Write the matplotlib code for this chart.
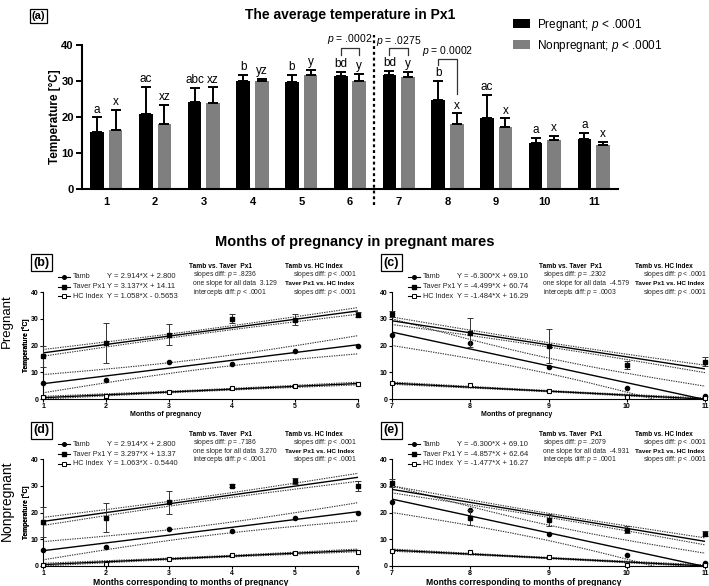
import numpy as np
import matplotlib
matplotlib.use("Agg")
import matplotlib.pyplot as plt
from matplotlib.lines import Line2D

plt.rcParams['font.family'] = ['Liberation Sans', 'DejaVu Sans']
plt.rcParams['mathtext.fontset'] = 'custom'
plt.rcParams['mathtext.rm'] = 'Liberation Sans'
plt.rcParams['mathtext.it'] = 'Liberation Sans:italic'
plt.rcParams['mathtext.bf'] = 'Liberation Sans:bold'

# ---------------- data ----------------
months = [1, 2, 3, 4, 5, 6, 7, 8, 9, 10, 11]
preg_mean = [15.9, 20.9, 24.1, 30.0, 29.6, 31.5, 31.8, 24.7, 19.7, 12.8, 14.0]
preg_sd = [4.0, 7.5, 4.0, 1.6, 2.0, 1.0, 1.1, 5.4, 6.4, 1.4, 1.6]
nonpreg_mean = [16.3, 18.1, 23.9, 30.0, 31.8, 30.0, 31.0, 18.1, 17.2, 13.6, 12.1]
nonpreg_sd = [5.6, 5.3, 4.3, 0.6, 1.2, 1.9, 1.6, 2.9, 2.4, 1.2, 1.0]
preg_letters = ['a', 'ac', 'abc', 'b', 'b', 'bd', 'bd', 'b', 'ac', 'a', 'a']
nonpreg_letters = ['x', 'xz', 'xz', 'yz', 'y', 'y', 'y', 'x', 'x', 'x', 'x']
legend_labels = ['Pregnant; $p$ < .0001', 'Nonpregnant; $p$ < .0001']

tamb = [6, 7, 14, 13, 18, 20, 24, 21, 12, 4, 1]
hc_preg = [0.6, 1.0, 2.6, 4.2, 5.0, 5.6, 5.8, 5.1, 3.0, 0.75, 0.4]
hc_nonpreg = [0.5, 0.8, 2.5, 4.1, 4.9, 5.2, 5.6, 5.2, 3.2, 0.5, 0.3]

series_names = ['Tamb', 'Taver Px1', 'HC Index']
slopes_b = [2.914, 3.137, 1.058]
intercepts_b = [2.800, 14.11, -0.5653]
slopes_c = [-6.300, -4.499, -1.484]
intercepts_c = [69.10, 60.74, 16.29]
slopes_d = [2.914, 3.297, 1.063]
intercepts_d = [2.800, 13.37, -0.5440]
slopes_e = [-6.300, -4.857, -1.477]
intercepts_e = [69.10, 62.64, 16.27]
# 95% CI half-width at the ends of the fitted range
ci_b = [3.4, 1.25, 0.5]
ci_c = [5.0, 1.4, 0.4]
ci_d = [3.4, 1.5, 0.5]
ci_e = [5.0, 1.3, 0.4]

stats_b = ['.8236', '3.129', '$p$ < .0001']
stats_c = ['.2302', '-4.579', '$p$ = .0003']
stats_d = ['.7186', '3.270', '$p$ < .0001']
stats_e = ['.2079', '-4.931', '$p$ = .0001']

# ---------------- figure ----------------
W, H = 709, 586
fig = plt.figure(figsize=(W / 100, H / 100), dpi=100)


def fx(px):
    return px / W


def fy(py):
    return 1 - py / H


def rect(l, t, r, b):
    return [fx(l), fy(b), (r - l) / W, (b - t) / H]


def boxlabel(cx, cy, s, fs):
    fig.text(fx(cx), fy(cy), s, fontsize=fs, weight='bold', ha='center', va='center',
             bbox=dict(boxstyle='square,pad=0.2', fc='white', ec='black', lw=0.9))


# ---------- panel (a) ----------
ax = fig.add_axes(rect(82, 45, 618, 189))
x = np.array(months, dtype=float)
off, bw = 0.19, 0.28
b1 = ax.bar(x - off, preg_mean, width=bw, color='black', zorder=2)
b2 = ax.bar(x + off, nonpreg_mean, width=bw, color='#7f7f7f', zorder=2)
ax.errorbar(x - off, preg_mean, yerr=[np.zeros(11), preg_sd], fmt='none', ecolor='black',
            elinewidth=1.4, capsize=3.5, capthick=1.4, zorder=3)
ax.errorbar(x + off, nonpreg_mean, yerr=[np.zeros(11), nonpreg_sd], fmt='none', ecolor='black',
            elinewidth=1.4, capsize=3.5, capthick=1.4, zorder=3)
for i in range(11):
    ax.text(x[i] - off, preg_mean[i] + preg_sd[i] + 0.5, preg_letters[i], ha='center',
            va='bottom', fontsize=8.5)
    ax.text(x[i] + off, nonpreg_mean[i] + nonpreg_sd[i] + 0.5, nonpreg_letters[i], ha='center',
            va='bottom', fontsize=8.5)

# significance brackets
brackets = [(6, 39.1, 37.2, 37.2, '$p$ = .0002', 41.6),
            (7, 39.1, 37.2, 37.2, '$p$ = .0275', 41.2),
            (8, 36.1, 34.4, 26.5, '$p$ = 0.0002', 38.2)]
for m, ytop, yl, yr, lab, ylab in brackets:
    ax.plot([m - off, m - off, m + off, m + off], [yl, ytop, ytop, yr], color='#333333',
            lw=0.9, clip_on=False)
    ax.text(m, ylab, lab, ha='center', va='center', fontsize=7.5, clip_on=False)

ax.plot([6.5, 6.5], [-4.5, 42.8], color='black', lw=1.6, ls=(0, (1.3, 1.3)), clip_on=False)

ax.set_xlim(0.5, 11.5)
ax.set_ylim(0, 40)
ax.set_yticks([0, 10, 20, 30, 40])
ax.set_xticks(months)
for s in ['top', 'right']:
    ax.spines[s].set_visible(False)
for s in ['left', 'bottom']:
    ax.spines[s].set_linewidth(1.5)
ax.tick_params(axis='y', direction='out', length=4, width=1.4, labelsize=8, pad=2)
ax.tick_params(axis='x', length=0, labelsize=8, pad=6)
for lbl in ax.get_xticklabels() + ax.get_yticklabels():
    lbl.set_fontweight('bold')
fig.text(fx(55), fy(117), 'Temperature [°C]', rotation=90, ha='center', va='center',
         fontsize=8.5, weight='bold')
fig.text(fx(350), fy(15), 'The average temperature in Px1', ha='center', va='center',
         fontsize=10, weight='bold')
ax.legend([b1, b2], legend_labels, loc='upper left', bbox_to_anchor=(fx(513), fy(17)),
          bbox_transform=fig.transFigure, frameon=False, fontsize=8.5, handlelength=1.45,
          handleheight=0.8, handletextpad=0.6, labelspacing=0.4, borderpad=0, borderaxespad=0)
boxlabel(38.5, 16, '(a)', 8)

fig.text(fx(355), fy(242), 'Months of pregnancy in pregnant mares', ha='center', va='center',
         fontsize=10.5, weight='bold')
fig.text(fx(7), fy(321), 'Pregnant', rotation=90, ha='center', va='center', fontsize=9.5)
fig.text(fx(7), fy(501), 'Nonpregnant', rotation=90, ha='center', va='center', fontsize=10)


# ---------- regression panels ----------
def fmt(v):
    return f"{v:#.4g}"


def small_panel(box, xs, t_amb, t_av, t_sd, hc, slopes, icpts, ci, stats, dx, dy, label,
                xlabel, xl_cx, xl_cy, xl_fs):
    ax = fig.add_axes(rect(*box))
    xs = np.array(xs, dtype=float)
    xx = np.linspace(xs[0], xs[-1], 200)
    xbar = xs.mean()
    sxx = ((xs - xbar) ** 2).sum()
    k = len(xs)
    shape = np.sqrt(1 / k + (xx - xbar) ** 2 / sxx) / np.sqrt(1 / k + (xs[0] - xbar) ** 2 / sxx)
    for m, b, c in zip(slopes, icpts, ci):
        yy = m * xx + b
        ax.plot(xx, yy, color='black', lw=1.0, zorder=3)
        ax.plot(xx, yy + c * shape, color='#333333', lw=0.8, ls=(0, (1.2, 1.0)), zorder=2)
        ax.plot(xx, yy - c * shape, color='#333333', lw=0.8, ls=(0, (1.2, 1.0)), zorder=2)
    ax.plot(xs, t_amb, 'o', ms=3, color='black', clip_on=False, zorder=5)
    ax.errorbar(xs, t_av, yerr=t_sd, fmt='s', ms=3.5, color='black', ecolor='#333333',
                elinewidth=0.7, capsize=2, capthick=0.7, clip_on=False, zorder=5)
    ax.plot(xs, hc, 's', ms=3.5, mfc='white', mec='black', mew=0.8, clip_on=False, zorder=6)
    ax.set_xlim(xs[0], xs[-1])
    ax.set_ylim(0, 40)
    ax.set_yticks([0, 10, 20, 30, 40])
    ax.set_xticks(xs)
    ax.set_xticklabels([str(int(v)) for v in xs])
    for s in ['top', 'right']:
        ax.spines[s].set_visible(False)
    for s in ['left', 'bottom']:
        ax.spines[s].set_linewidth(0.8)
    ax.tick_params(direction='out', length=2.2, width=0.8, labelsize=5, pad=1.0)
    for lbl in ax.get_xticklabels() + ax.get_yticklabels():
        lbl.set_fontweight('bold')
    l, t, r, bt = box
    fig.text(fx(26), fy((t + bt) / 2), 'Temperature [°C]', rotation=90, ha='center',
             va='center', fontsize=4.8, weight='bold')
    fig.text(fx(xl_cx), fy(xl_cy), xlabel, ha='center', va='center', fontsize=xl_fs,
             weight='bold')
    boxlabel(41.5 + dx, 262.5 + dy, label, 9)
    # legend
    rows = [276.7, 286.7, 296.0]
    mk = [dict(marker='o', ms=2.6, mfc='black', mec='black'),
          dict(marker='s', ms=3, mfc='black', mec='black'),
          dict(marker='s', ms=3, mfc='white', mec='black', mew=0.7)]
    for i in range(3):
        ry = rows[i] + dy
        fig.add_artist(Line2D([fx(58 + dx), fx(70 + dx)], [fy(ry), fy(ry)], color='black',
                              lw=0.8))
        fig.add_artist(Line2D([fx(64 + dx)], [fy(ry)], ls='none', **mk[i]))
        fig.text(fx(73 + dx), fy(ry), series_names[i], fontsize=5.2, va='center', color='#222222')
        sgn = '+' if icpts[i] >= 0 else '-'
        eq = f"Y = {fmt(slopes[i])}*X {sgn} {fmt(abs(icpts[i]))}"
        fig.text(fx(107 + dx), fy(ry), eq, fontsize=5.5, va='center', color='#222222')
    srows = [266.7, 275.0, 283.7, 292.3]
    fig.text(fx(189 + dx), fy(srows[0] + dy), 'Tamb vs. Taver  Px1', fontsize=4.8,
             weight='bold', va='center')
    fig.text(fx(193 + dx), fy(srows[1] + dy), 'slopes diff: $p$ = ' + stats[0], fontsize=4.9,
             va='center', color='#222222')
    fig.text(fx(193 + dx), fy(srows[2] + dy), 'one slope for all data  ' + stats[1],
             fontsize=4.9, va='center', color='#222222')
    fig.text(fx(193 + dx), fy(srows[3] + dy), 'intercepts diff: ' + stats[2], fontsize=4.9,
             va='center', color='#222222')
    fig.text(fx(285 + dx), fy(srows[0] + dy), 'Tamb vs. HC Index', fontsize=4.7, weight='bold',
             va='center')
    fig.text(fx(293 + dx), fy(srows[1] + dy), 'slopes diff: $p$ < .0001', fontsize=4.9,
             va='center', color='#222222')
    fig.text(fx(285 + dx), fy(srows[2] + dy), 'Taver Px1 vs. HC Index', fontsize=4.6,
             weight='bold', va='center')
    fig.text(fx(293 + dx), fy(srows[3] + dy), 'slopes diff: $p$ < .0001', fontsize=4.9,
             va='center', color='#222222')


small_panel((43, 292, 358, 399), months[:6], tamb[:6], preg_mean[:6], preg_sd[:6],
            hc_preg[:6], slopes_b, intercepts_b, ci_b, stats_b, 0, 0, '(b)',
            'Months of pregnancy', 166, 414, 5)
small_panel((392, 292, 705, 399), months[6:], tamb[6:], preg_mean[6:], preg_sd[6:],
            hc_preg[6:], slopes_c, intercepts_c, ci_c, stats_c, 350, 0, '(c)',
            'Months of pregnancy', 517, 414, 5)
small_panel((43, 459, 358, 566), months[:6], tamb[:6], nonpreg_mean[:6], nonpreg_sd[:6],
            hc_nonpreg[:6], slopes_d, intercepts_d, ci_d, stats_d, 0, 167.5, '(d)',
            'Months corresponding to months of pregnancy', 191, 582.5, 6.2)
small_panel((392, 459, 705, 566), months[6:], tamb[6:], nonpreg_mean[6:], nonpreg_sd[6:],
            hc_nonpreg[6:], slopes_e, intercepts_e, ci_e, stats_e, 350, 167.5, '(e)',
            'Months corresponding to months of pregnancy', 524, 582.5, 6.2)

fig.savefig('out.png', dpi=100)
